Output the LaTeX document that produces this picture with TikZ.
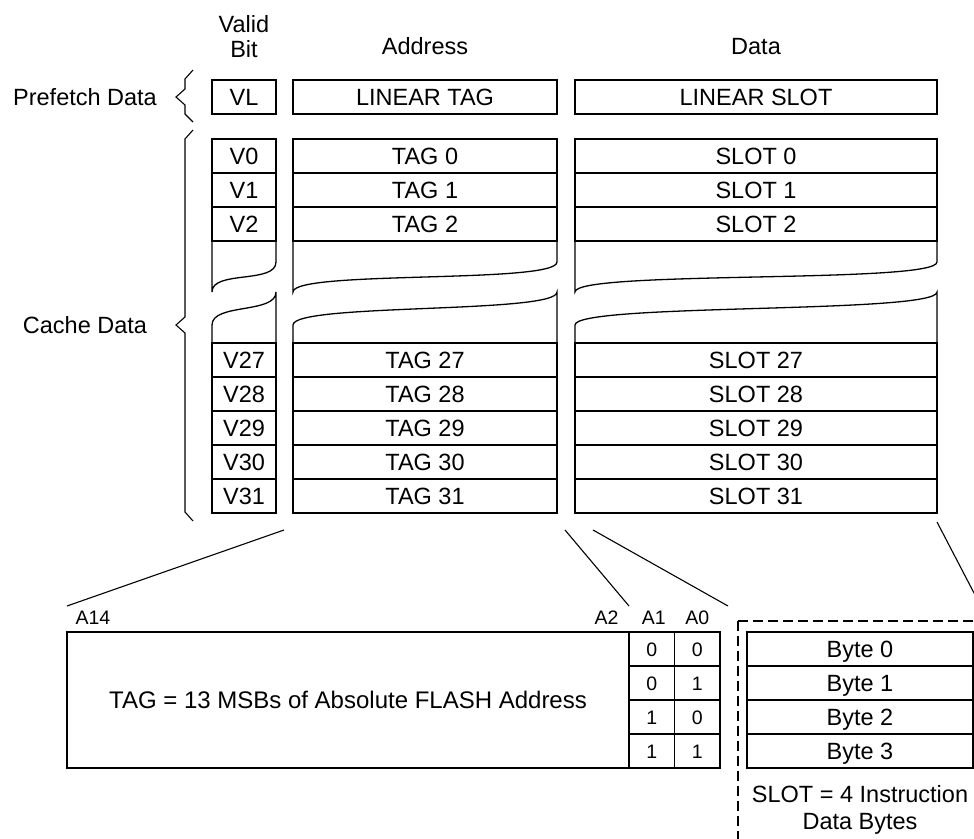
\documentclass[tikz,border=0pt]{standalone}
\usepackage{fontspec}
\setmainfont{Liberation Sans}
\usetikzlibrary{positioning, calc}

\begin{document}
\begin{tikzpicture}[
  x=1pt, y=-1pt, line width=1.3pt,
  font=\fontsize{23.5}{27}\selectfont,
  rowbox/.style  = {draw, rectangle, inner sep=0pt, outer sep=0pt,
                    minimum height=34pt, text height=16.8pt, text depth=0pt},
  vbit/.style    = {rowbox, minimum width=64pt},
  tagc/.style    = {rowbox, minimum width=264pt},
  slotc/.style   = {rowbox, minimum width=362pt},
  bytec/.style   = {rowbox, minimum width=226pt},
  bitc/.style    = {rowbox, minimum width=45.5pt, text height=14pt,
                    font=\fontsize{19.5}{22}\selectfont},
  addrlbl/.style = {inner sep=0pt, font=\fontsize{19.5}{22}\selectfont},
  head/.style    = {inner sep=0pt, align=center},
  zoomln/.style  = {line width=1.1pt},
  frame/.style   = {line width=1.6pt, dash pattern=on 10pt off 5pt},
]
  \useasboundingbox (0,0) rectangle (974,838);
  \clip (0,0) rectangle (974,838);

%--- prefetch row ---
  \node[vbit]                      (vl)    at (244,97) {VL};
  \node[tagc,  right=17pt of vl]   (ltag)  {LINEAR TAG};
  \node[slotc, right=18pt of ltag] (lslot) {LINEAR SLOT};

  % column heads
  \node[head, above=22pt of vl, font=\fontsize{23.5}{25}\selectfont] (hvalid) {Valid\\Bit};
  \node[head, above=25pt of ltag]  (haddr) {Address};
  \node[head, above=25pt of lslot] (hdata) {Data};

%--- cache rows ---
  \node[vbit,  below=25pt of vl]  (v0) {V0};
  \node[tagc,  right=17pt of v0]  (t0) {TAG 0};
  \node[slotc, right=18pt of t0]  (s0) {SLOT 0};
  \node[vbit,  below=0pt of v0]   (v1) {V1};
  \node[tagc,  right=17pt of v1]  (t1) {TAG 1};
  \node[slotc, right=18pt of t1]  (s1) {SLOT 1};
  \node[vbit,  below=0pt of v1]   (v2) {V2};
  \node[tagc,  right=17pt of v2]  (t2) {TAG 2};
  \node[slotc, right=18pt of t2]  (s2) {SLOT 2};

  \node[vbit,  below=102pt of v2] (v27) {V27};
  \node[tagc,  right=17pt of v27] (t27) {TAG 27};
  \node[slotc, right=18pt of t27] (s27) {SLOT 27};
  \node[vbit,  below=0pt of v27]  (v28) {V28};
  \node[tagc,  right=17pt of v28] (t28) {TAG 28};
  \node[slotc, right=18pt of t28] (s28) {SLOT 28};
  \node[vbit,  below=0pt of v28]  (v29) {V29};
  \node[tagc,  right=17pt of v29] (t29) {TAG 29};
  \node[slotc, right=18pt of t29] (s29) {SLOT 29};
  \node[vbit,  below=0pt of v29]  (v30) {V30};
  \node[tagc,  right=17pt of v30] (t30) {TAG 30};
  \node[slotc, right=18pt of t30] (s30) {SLOT 30};
  \node[vbit,  below=0pt of v30]  (v31) {V31};
  \node[tagc,  right=17pt of v31] (t31) {TAG 31};
  \node[slotc, right=18pt of t31] (s31) {SLOT 31};

  % torn ends between row 2 and row 27
  \draw (v2.south east) -- ($(v2.south east)+(0,21)$)
    .. controls ($(v2.south east)+(0,43)$) and ($(v2.south west)+(0,29)$) .. ($(v2.south west)+(0,51)$)
    -- (v2.south west);
  \draw (t2.south east) -- ($(t2.south east)+(0,21)$)
    .. controls ($(t2.south east)+(0,43)$) and ($(t2.south west)+(0,29)$) .. ($(t2.south west)+(0,51)$)
    -- (t2.south west);
  \draw (s2.south east) -- ($(s2.south east)+(0,21)$)
    .. controls ($(s2.south east)+(0,43)$) and ($(s2.south west)+(0,29)$) .. ($(s2.south west)+(0,51)$)
    -- (s2.south west);
  \draw (v27.north west) -- ($(v27.north west)+(0,-18)$)
    .. controls ($(v27.north west)+(0,-40)$) and ($(v27.north east)+(0,-29)$) .. ($(v27.north east)+(0,-51)$)
    -- (v27.north east);
  \draw (t27.north west) -- ($(t27.north west)+(0,-18)$)
    .. controls ($(t27.north west)+(0,-40)$) and ($(t27.north east)+(0,-29)$) .. ($(t27.north east)+(0,-51)$)
    -- (t27.north east);
  \draw (s27.north west) -- ($(s27.north west)+(0,-18)$)
    .. controls ($(s27.north west)+(0,-40)$) and ($(s27.north east)+(0,-29)$) .. ($(s27.north east)+(0,-51)$)
    -- (s27.north east);

  % braces + group names
  \node[head] (pfname) at (85,97)  {Prefetch Data};
  \node[head] (cdname) at (85,325) {Cache Data};
  \draw[line width=1.1pt] (193,70) -- (185,79) -- (185,89) -- (176,97) -- (185,105) -- (185,114) -- (193,122);
  \draw[line width=1.1pt] (193,130) -- (185,139) -- (185,317) -- (176,325) -- (185,333) -- (185,512) -- (193,521);

%--- tag layout (bottom left) ---
  \node[rowbox, minimum width=562pt, minimum height=136pt, font=\fontsize{24}{27}\selectfont] (addr) at (348,700)
       {TAG = 13 MSBs of Absolute FLASH Address};
  \node[bitc, anchor=north west] (a1r0) at (addr.north east) {0};
  \node[bitc, right=0pt of a1r0] (a0r0) {0};
  \node[bitc, below=0pt of a1r0] (a1r1) {0};
  \node[bitc, right=0pt of a1r1] (a0r1) {1};
  \node[bitc, below=0pt of a1r1] (a1r2) {1};
  \node[bitc, right=0pt of a1r2] (a0r2) {0};
  \node[bitc, below=0pt of a1r2] (a1r3) {1};
  \node[bitc, right=0pt of a1r3] (a0r3) {1};

  \node[addrlbl, anchor=south west] (a14) at ($(addr.north west)+(8,-7)$)  {A14};
  \node[addrlbl, anchor=south east] (a2)  at ($(a1r0.north west)+(-10,-7)$) {A2};
  \node[addrlbl, anchor=south]      (a1)  at ($(a1r0.north)+(2,-7)$)       {A1};
  \node[addrlbl, anchor=south]      (a0)  at ($(a0r0.north)+(0,-7)$)       {A0};

%--- slot layout (bottom right) ---
  \node[bytec, right=27pt of a0r0] (byte0) {Byte 0};
  \node[bytec, below=0pt of byte0] (byte1) {Byte 1};
  \node[bytec, below=0pt of byte1] (byte2) {Byte 2};
  \node[bytec, below=0pt of byte2] (byte3) {Byte 3};
  \node[head, below=17pt of byte3] (slotnote) {SLOT = 4 Instruction\\Data Bytes};
  \draw[frame] ($(byte0.north west)+(-9,-11)$) rectangle ($(byte0.north west)+(300,300)$);

  % zoom lines
  \coordinate (z1a) at ($(t31.south west)+(-9,17)$);
  \coordinate (z1b) at ($(addr.north west)+(0,-26)$);
  \coordinate (z2a) at ($(t31.south east)+(8,17)$);
  \coordinate (z2b) at ($(a1r0.north west)+(0,-26)$);
  \coordinate (z3a) at ($(s31.south west)+(18,17)$);
  \coordinate (z3b) at ($(a0r0.north east)+(8,-26)$);
  \coordinate (z4a) at ($(s31.south east)+(0,9)$);
  \coordinate (z4b) at ($(byte0.north east)+(13,-16)$);
  \draw[zoomln] (z1a) -- (z1b);
  \draw[zoomln] (z2a) -- (z2b);
  \draw[zoomln] (z3a) -- (z3b);
  \draw[zoomln] (z4a) -- (z4b);
\end{tikzpicture}
\end{document}
